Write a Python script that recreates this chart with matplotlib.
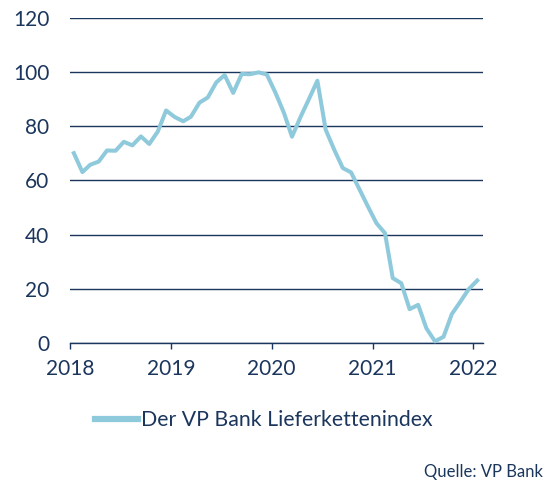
import matplotlib
matplotlib.use("Agg")
import matplotlib.pyplot as plt
import pandas as pd

# monthly index values, Jan 2018 .. Jan 2022
months = pd.date_range("2018-01-01", "2022-01-01", freq="MS") + pd.Timedelta(days=14)
index_values = [70.1, 63.1, 65.8, 67.0, 71.1, 71.0, 74.3, 73.0, 76.3, 73.5, 78.1, 85.9,
                83.5, 81.9, 83.6, 88.8, 90.7, 96.3, 99.0, 92.4, 99.4, 99.3, 100.0, 99.2,
                92.5, 85.0, 76.2, 83.5, 90.0, 96.9, 78.8, 71.4, 64.6, 63.0, 56.6, 50.4,
                44.2, 40.5, 23.9, 22.0, 12.4, 14.0, 5.3, 0.5, 2.2, 10.6, 15.2, 19.8,
                23.0]
year_ticks = ["2018", "2019", "2020", "2021", "2022"]
y_ticks = [0, 20, 40, 60, 80, 100, 120]
series_label = "Der VP Bank Lieferkettenindex"
source_text = "Quelle: VP Bank"

navy = "#1b365d"
line_col = "#8ecadc"

plt.rcParams["font.family"] = ["Lato", "DejaVu Sans"]

fig = plt.figure(figsize=(5.59, 4.90), dpi=100)
ax = fig.add_axes([0.1252, 0.3006, 0.8646 - 0.1252, 0.9627 - 0.3006])

ax.plot(months, index_values, color=line_col, lw=2.9, label=series_label,
        solid_joinstyle="round", clip_on=False, zorder=3)

ax.set_ylim(0, 120)
ax.set_yticks(y_ticks)
ax.set_xlim(pd.Timestamp("2018-01-01"), pd.Timestamp("2022-02-06"))
ax.set_xticks([pd.Timestamp(y + "-01-01") for y in year_ticks])
ax.set_xticklabels(year_ticks)

ax.yaxis.grid(True, color=navy, lw=1)
ax.set_axisbelow(True)
for s in ["top", "right", "left"]:
    ax.spines[s].set_visible(False)
ax.spines["bottom"].set_color(navy)
ax.spines["bottom"].set_linewidth(1)

ax.tick_params(axis="y", length=0, pad=15, labelsize=15, labelcolor=navy)
ax.tick_params(axis="x", length=4.5, width=1, color=navy, pad=7,
               labelsize=15, labelcolor=navy)

leg = fig.legend(loc="center left", bbox_to_anchor=(95 / 559, 0.1422),
                 frameon=False, fontsize=15.3, handlelength=2.0,
                 handletextpad=0.17, borderpad=0, borderaxespad=0)
for t in leg.get_texts():
    t.set_color(navy)
for h in leg.get_lines():
    h.set_linewidth(4.5)

fig.text(542.7 / 559, 0.0373, source_text, ha="right", va="center",
         fontsize=12, color=navy)

fig.savefig("out.png", dpi=100)
